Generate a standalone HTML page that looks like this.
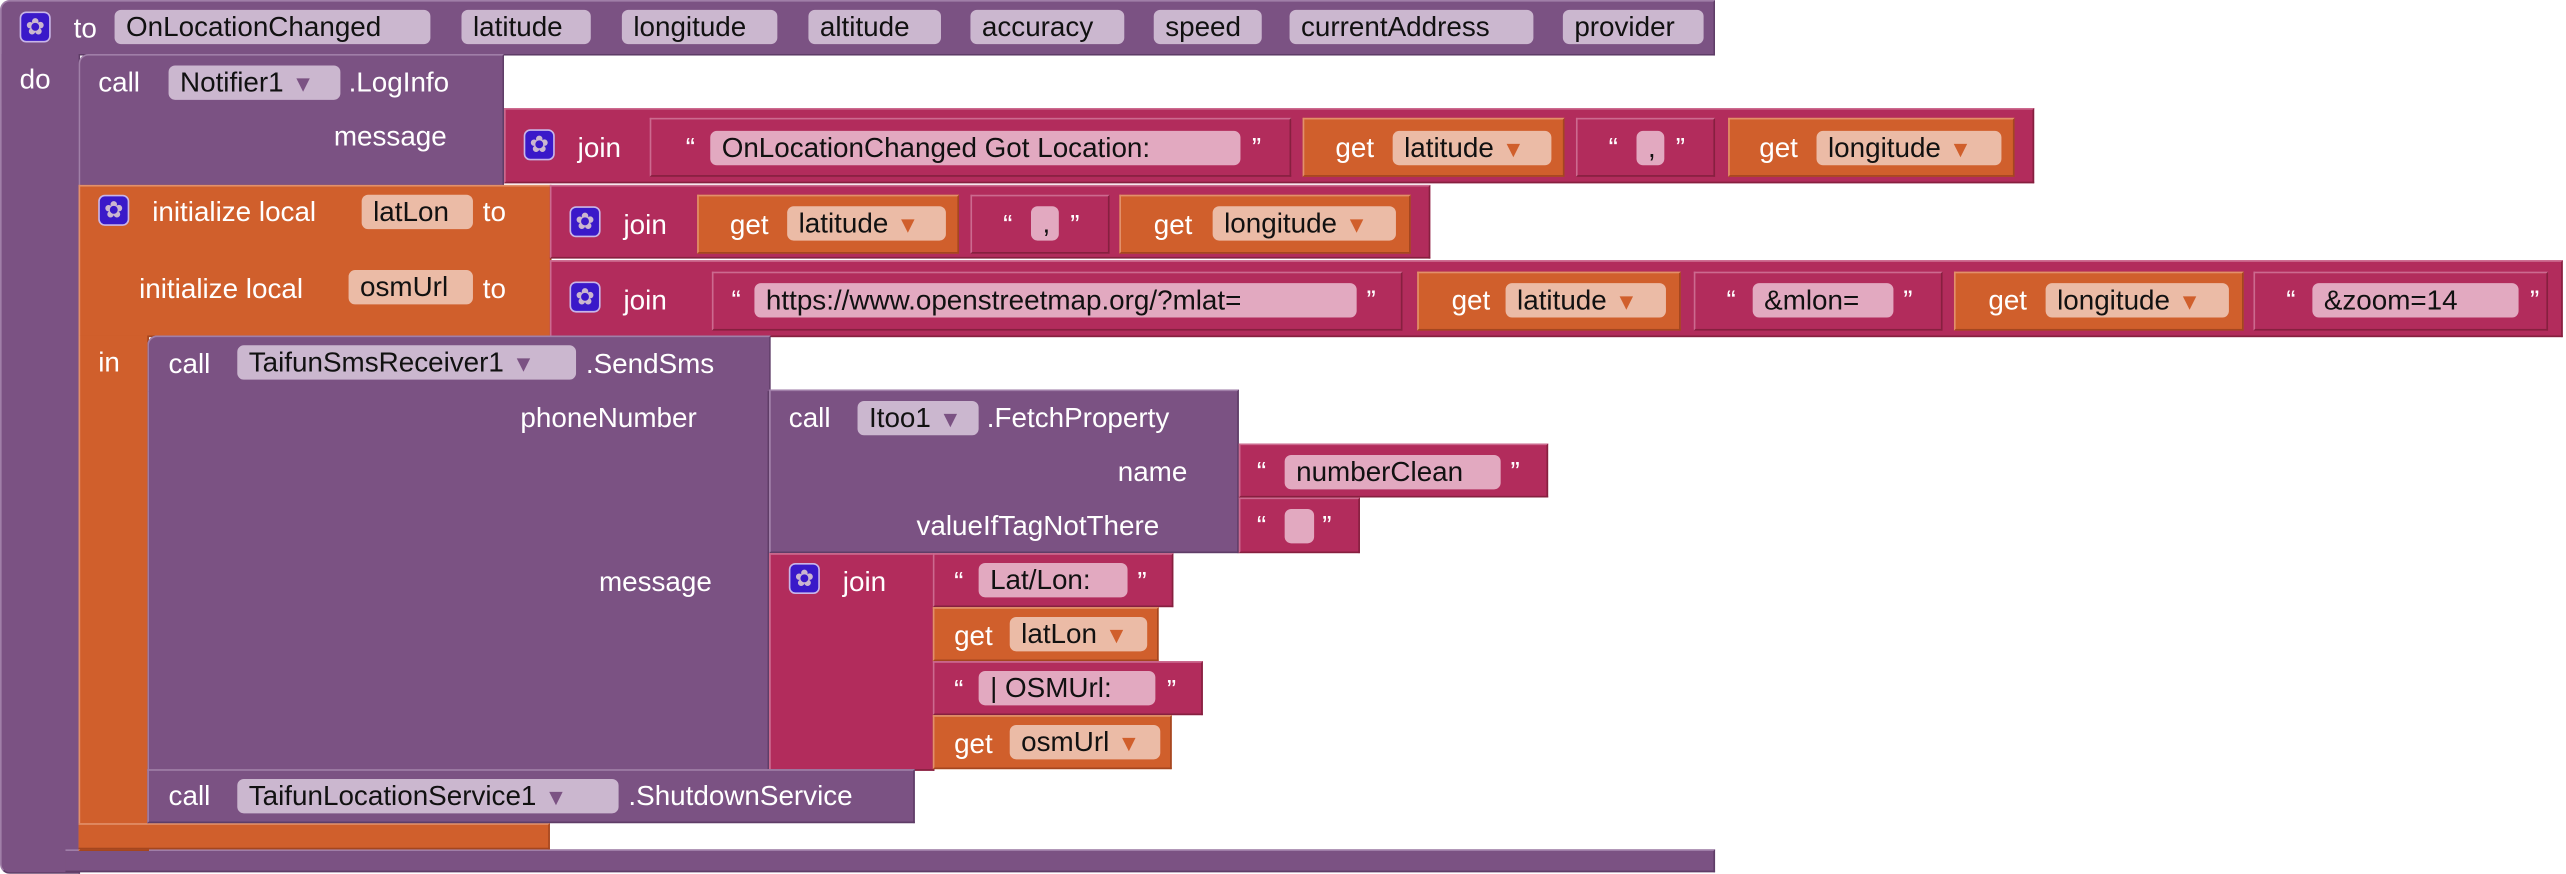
<!DOCTYPE html>
<html><head><meta charset="utf-8"><style>
html,body{margin:0;padding:0;background:#fff;overflow:hidden}
#w{width:1568px;height:534px;position:relative;transform:scale(1.6365);transform-origin:0 0;font-family:"Liberation Sans",sans-serif;font-size:17px}
.b{position:absolute;box-sizing:border-box}
.p{background:#7b5283;border-top:1px solid #a07fa8;border-left:1px solid #a07fa8;border-bottom:1px solid #5f3d67;border-right:1px solid #5f3d67}
.m{background:#b22c5c;border-top:1px solid #cc6a8f;border-left:1px solid #cc6a8f;border-bottom:1px solid #86203f;border-right:1px solid #86203f}
.o{background:#d05f2c;border-top:1px solid #e2906a;border-left:1px solid #e2906a;border-bottom:1px solid #a4461f;border-right:1px solid #a4461f}
.t{position:absolute;color:#fff;line-height:21px;white-space:nowrap}
.f{position:absolute;height:21px;line-height:21px;border-radius:4px;padding-left:7px;box-sizing:border-box;color:#111;white-space:nowrap}
.fp{background:#cbb7cf}
.fo{background:#ebbba6}
.fm{background:#e2a9c0}
.ar{font-size:14px;margin-left:5px}
.fp .ar{color:#7b5283}.fo .ar{color:#d05f2c}
.g{position:absolute;width:19px;height:19px;border-radius:4px;background:#3a19c9;border:1px solid #c9b6e8;box-sizing:border-box;color:#cbb7cf;font-size:14px;line-height:17px;text-align:center}
</style></head><body><div id="w">
<div class="b p" style="left:0;top:0;width:1048px;height:34px;border-radius:6px 0 0 0"></div>
<div class="b p" style="left:0;top:33px;width:49px;height:501px;border-top:none;border-radius:0 0 0 6px"></div>
<div class="b p" style="left:40px;top:519px;width:1008px;height:14px;border-left:none"></div>
<div class="g" style="left:12px;top:7px">✿</div>
<div class="t" style="left:45px;top:7px">to</div>
<div class="f fp" style="left:70px;top:6px;width:193px">OnLocationChanged</div>
<div class="f fp" style="left:282px;top:6px;width:79px">latitude</div>
<div class="f fp" style="left:380px;top:6px;width:95px">longitude</div>
<div class="f fp" style="left:494px;top:6px;width:81px">altitude</div>
<div class="f fp" style="left:593px;top:6px;width:94px">accuracy</div>
<div class="f fp" style="left:705px;top:6px;width:66px">speed</div>
<div class="f fp" style="left:788px;top:6px;width:149px">currentAddress</div>
<div class="f fp" style="left:955px;top:6px;width:86px">provider</div>
<div class="t" style="left:12px;top:38px">do</div>
<div class="b p" style="left:48px;top:33px;width:260px;height:81px;border-radius:6px 0 0 0"></div>
<div class="t" style="left:60px;top:40px">call</div>
<div class="f fp" style="left:103px;top:40px;width:105px">Notifier1<span class="ar">▼</span></div>
<div class="t" style="left:213px;top:40px">.LogInfo</div>
<div class="t" style="left:204px;top:73px">message</div>
<div class="b m" style="left:308px;top:66px;width:935px;height:46px"></div>
<div class="g" style="left:320px;top:79px">✿</div>
<div class="t" style="left:353px;top:80px">join</div>
<div class="b m" style="left:397px;top:72px;width:392px;height:36px"></div>
<div class="t" style="left:419px;top:80px">“</div>
<div class="f fm" style="left:434px;top:80px;width:324px">OnLocationChanged Got Location:</div>
<div class="t" style="left:765px;top:80px">”</div>
<div class="b o" style="left:796px;top:72px;width:160px;height:36px"></div>
<div class="t" style="left:816px;top:80px">get</div>
<div class="f fo" style="left:851px;top:80px;width:97px">latitude<span class="ar">▼</span></div>
<div class="b m" style="left:963px;top:72px;width:85px;height:36px"></div>
<div class="t" style="left:983px;top:80px">“</div>
<div class="f fm" style="left:1000px;top:80px;width:17px">,</div>
<div class="t" style="left:1024px;top:80px">”</div>
<div class="b o" style="left:1056px;top:72px;width:175px;height:36px"></div>
<div class="t" style="left:1075px;top:80px">get</div>
<div class="f fo" style="left:1110px;top:80px;width:113px">longitude<span class="ar">▼</span></div>
<div class="b o" style="left:48px;top:113px;width:289px;height:93px"></div>
<div class="b o" style="left:48px;top:205px;width:43px;height:315px;border-top:none"></div>
<div class="b o" style="left:48px;top:503px;width:288px;height:16px;border-left:none"></div>
<div class="g" style="left:60px;top:119px">✿</div>
<div class="t" style="left:93px;top:119px">initialize local</div>
<div class="f fo" style="left:221px;top:119px;width:68px">latLon</div>
<div class="t" style="left:295px;top:119px">to</div>
<div class="t" style="left:85px;top:166px">initialize local</div>
<div class="f fo" style="left:213px;top:165px;width:76px">osmUrl</div>
<div class="t" style="left:295px;top:166px">to</div>
<div class="t" style="left:60px;top:211px">in</div>
<div class="b m" style="left:336px;top:113px;width:538px;height:45px"></div>
<div class="g" style="left:348px;top:126px">✿</div>
<div class="t" style="left:381px;top:127px">join</div>
<div class="b o" style="left:426px;top:119px;width:160px;height:36px"></div>
<div class="t" style="left:446px;top:127px">get</div>
<div class="f fo" style="left:481px;top:126px;width:97px">latitude<span class="ar">▼</span></div>
<div class="b m" style="left:593px;top:119px;width:85px;height:36px"></div>
<div class="t" style="left:613px;top:127px">“</div>
<div class="f fm" style="left:630px;top:126px;width:17px">,</div>
<div class="t" style="left:654px;top:127px">”</div>
<div class="b o" style="left:684px;top:119px;width:178px;height:36px"></div>
<div class="t" style="left:705px;top:127px">get</div>
<div class="f fo" style="left:741px;top:126px;width:112px">longitude<span class="ar">▼</span></div>
<div class="b m" style="left:336px;top:159px;width:1230px;height:47px"></div>
<div class="g" style="left:348px;top:172px">✿</div>
<div class="t" style="left:381px;top:173px">join</div>
<div class="b m" style="left:435px;top:166px;width:422px;height:36px"></div>
<div class="t" style="left:447px;top:173px">“</div>
<div class="f fm" style="left:461px;top:173px;width:368px">https://www.openstreetmap.org/?mlat=</div>
<div class="t" style="left:835px;top:173px">”</div>
<div class="b o" style="left:866px;top:166px;width:161px;height:36px"></div>
<div class="t" style="left:887px;top:173px">get</div>
<div class="f fo" style="left:920px;top:173px;width:98px">latitude<span class="ar">▼</span></div>
<div class="b m" style="left:1035px;top:166px;width:152px;height:36px"></div>
<div class="t" style="left:1055px;top:173px">“</div>
<div class="f fm" style="left:1071px;top:173px;width:86px">&amp;mlon=</div>
<div class="t" style="left:1163px;top:173px">”</div>
<div class="b o" style="left:1194px;top:166px;width:177px;height:36px"></div>
<div class="t" style="left:1215px;top:173px">get</div>
<div class="f fo" style="left:1250px;top:173px;width:112px">longitude<span class="ar">▼</span></div>
<div class="b m" style="left:1377px;top:166px;width:180px;height:36px"></div>
<div class="t" style="left:1397px;top:173px">“</div>
<div class="f fm" style="left:1413px;top:173px;width:126px">&amp;zoom=14</div>
<div class="t" style="left:1546px;top:173px">”</div>
<div class="b p" style="left:90px;top:205px;width:380px;height:266px;border-radius:6px 0 0 0"></div>
<div class="b p" style="left:90px;top:205px;width:381px;height:34px;border-bottom:none;border-radius:6px 0 0 0"></div>
<div class="t" style="left:103px;top:212px">call</div>
<div class="f fp" style="left:145px;top:211px;width:207px">TaifunSmsReceiver1<span class="ar">▼</span></div>
<div class="t" style="left:358px;top:212px">.SendSms</div>
<div class="t" style="left:318px;top:245px">phoneNumber</div>
<div class="t" style="left:366px;top:345px">message</div>
<div class="b p" style="left:470px;top:238px;width:287px;height:100px"></div>
<div class="t" style="left:482px;top:245px">call</div>
<div class="f fp" style="left:524px;top:245px;width:74px">Itoo1<span class="ar">▼</span></div>
<div class="t" style="left:603px;top:245px">.FetchProperty</div>
<div class="t" style="left:683px;top:278px">name</div>
<div class="t" style="left:560px;top:311px">valueIfTagNotThere</div>
<div class="b m" style="left:757px;top:271px;width:189px;height:33px"></div>
<div class="t" style="left:768px;top:278px">“</div>
<div class="f fm" style="left:785px;top:278px;width:132px">numberClean</div>
<div class="t" style="left:923px;top:278px">”</div>
<div class="b m" style="left:757px;top:304px;width:74px;height:34px"></div>
<div class="t" style="left:768px;top:311px">“</div>
<div class="f fm" style="left:785px;top:311px;width:18px"></div>
<div class="t" style="left:808px;top:311px">”</div>
<div class="b m" style="left:470px;top:338px;width:101px;height:133px"></div>
<div class="g" style="left:482px;top:344px">✿</div>
<div class="t" style="left:515px;top:345px">join</div>
<div class="b m" style="left:570px;top:338px;width:147px;height:33px"></div>
<div class="t" style="left:583px;top:345px">“</div>
<div class="f fm" style="left:598px;top:344px;width:91px">Lat/Lon:</div>
<div class="t" style="left:695px;top:345px">”</div>
<div class="b o" style="left:570px;top:371px;width:138px;height:33px"></div>
<div class="t" style="left:583px;top:378px">get</div>
<div class="f fo" style="left:617px;top:377px;width:84px">latLon<span class="ar">▼</span></div>
<div class="b m" style="left:570px;top:404px;width:165px;height:33px"></div>
<div class="t" style="left:583px;top:411px">“</div>
<div class="f fm" style="left:598px;top:410px;width:108px">| OSMUrl:</div>
<div class="t" style="left:713px;top:411px">”</div>
<div class="b o" style="left:570px;top:437px;width:146px;height:33px"></div>
<div class="t" style="left:583px;top:444px">get</div>
<div class="f fo" style="left:617px;top:443px;width:92px">osmUrl<span class="ar">▼</span></div>
<div class="b p" style="left:90px;top:470px;width:469px;height:33px"></div>
<div class="t" style="left:103px;top:476px">call</div>
<div class="f fp" style="left:145px;top:476px;width:233px">TaifunLocationService1<span class="ar">▼</span></div>
<div class="t" style="left:384px;top:476px">.ShutdownService</div>
</div></body></html>
